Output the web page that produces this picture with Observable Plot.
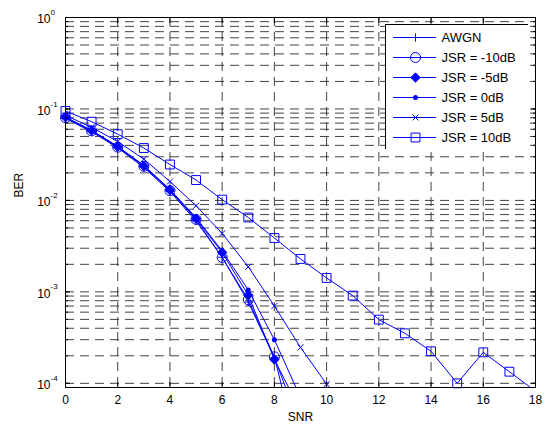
<!DOCTYPE html>
<html><head><meta charset="utf-8">
<script src="https://cdn.jsdelivr.net/npm/d3@7"></script>
<script src="https://cdn.jsdelivr.net/npm/@observablehq/plot@0.6"></script>
<style>
html,body{margin:0;padding:0;background:#fff;}
#chart{width:548px;height:425px;}
#chart > svg{display:block;}
</style></head><body><div id="chart"></div>
<script>
// ---- data ----
const snrAWGN = [0,1,2,3,4,5,6,7,8,9];
const berAWGN = [0.0786,0.0563,0.0375,0.0229,0.0125,0.00595,0.00239,0.000773,0.000191,0.0000336];
const snrJ10n = [0,1,2,3,4,5,6,7,8,9];
const berJ10n = [0.0800,0.0575,0.0382,0.0236,0.0128,0.0062,0.00238,0.00082,0.000195,0.000014];
const snrJ5n = [0,1,2,3,4,5,6,7,8,9];
const berJ5n = [0.0810,0.0580,0.0385,0.0238,0.0130,0.0063,0.0027,0.00092,0.000182,0.00005];
const snrJ0 = [0,1,2,3,4,5,6,7,8,9];
const berJ0 = [0.0815,0.0585,0.0390,0.0242,0.0132,0.0065,0.0028,0.00105,0.0003,0.00007];
const snrJ5 = [0,1,2,3,4,5,6,7,8,9,10];
const berJ5 = [0.085,0.063,0.044,0.0283,0.0161,0.00875,0.00436,0.00188,0.000701,0.000247,0.000098];
const snrJ10 = [0,1,2,3,4,5,6,7,8,9,10,11,12,13,14,15,16,17,18];
const berJ10 = [0.095,0.0725,0.053,0.0374,0.0247,0.0167,0.0102,0.0065,0.00388,0.00229,0.00142,0.00091,0.000497,0.000352,0.000224,0.0001,0.000218,0.000134,0.000082];

const seriesNames = ["AWGN","JSR = -10dB","JSR = -5dB","JSR = 0dB","JSR = 5dB","JSR = 10dB"];
const xTicks = [0,2,4,6,8,10,12,14,16,18];
const yMajor = [1e-4,1e-3,1e-2,1e-1,1];
const yMinor = [];
for (const d of [1e-4,1e-3,1e-2,1e-1]) for (let k = 1; k <= 9; k++) yMinor.push(k*d);
const xDomain = [0,18];
const yDomain = [9e-5,1];

// ---- styles ----
const BLUE = "#0000ff";
const styles = [
  {symbol:"plus", r:2.7, fill:"none", stroke:BLUE},
  {symbol:"circle", r:5, fill:"none", stroke:BLUE},
  {symbol:"diamond2", r:4.2, fill:BLUE, stroke:BLUE},
  {symbol:"circle", r:2.5, fill:BLUE, stroke:"none"},
  {symbol:"times", r:2.8, fill:"none", stroke:BLUE},
  {symbol:"square", r:5, fill:"none", stroke:BLUE}
];
const snrs = [snrAWGN,snrJ10n,snrJ5n,snrJ0,snrJ5,snrJ10];
const bers = [berAWGN,berJ10n,berJ5n,berJ0,berJ5,berJ10];
const series = seriesNames.map((name,i) => snrs[i].map((s,j) => ({snr:s, ber:bers[i][j], name})));

const gridStyle = {stroke:"#222", strokeOpacity:0.85, strokeWidth:1, strokeDasharray:"9,6"};
const font = "Liberation Sans, Arial, sans-serif";

const marks = [
  Plot.ruleY(yMinor, {y:d=>d, ...gridStyle}),
  Plot.ruleX(xTicks.filter(d=>d>xDomain[0] && d<xDomain[1]), {x:d=>d, ...gridStyle}),
];
series.forEach((rows,i) => {
  marks.push(Plot.line(rows, {x:"snr", y:"ber", stroke:BLUE, strokeWidth:1, clip:true}));
});
series.forEach((rows,i) => {
  const st = styles[i];
  marks.push(Plot.dot(rows.filter(d=>d.ber>=yDomain[0]), {x:"snr", y:"ber", symbol:st.symbol, r:st.r, fill:st.fill, stroke:st.stroke, strokeWidth:1}));
});
marks.push(
  Plot.axisX({ticks:xTicks, tickSize:-5, tickFormat:()=>"", anchor:"bottom"}),
  Plot.axisX({ticks:xTicks, tickSize:-5, tickFormat:()=>"", anchor:"top"}),
  Plot.axisY({ticks:yMajor, tickSize:-5, tickFormat:()=>"", anchor:"left"}),
  Plot.axisY({ticks:yMajor, tickSize:-5, tickFormat:()=>"", anchor:"right"}),
  Plot.axisY({ticks:yMinor, tickSize:-3, tickFormat:()=>"", anchor:"left"}),
  Plot.axisY({ticks:yMinor, tickSize:-3, tickFormat:()=>"", anchor:"right"}),
  Plot.text(xTicks, {x:d=>d, text:d=>String(d), frameAnchor:"bottom", dy:16, fontSize:12, fill:"black"}),
  Plot.text(yMajor, {y:d=>d, text:()=>"10", frameAnchor:"left", textAnchor:"end", dx:-15, dy:2, fontSize:12, fill:"black"}),
  Plot.text(yMajor, {y:d=>d, text:d=>String(Math.round(Math.log10(d))), frameAnchor:"left", textAnchor:"start", dx:-15, dy:-5, fontSize:8, fill:"black"}),
  Plot.text(["SNR"], {text:d=>d, frameAnchor:"bottom", dy:33, fontSize:12, fill:"black"}),
  Plot.text(["BER"], {text:d=>d, frameAnchor:"left", rotate:-90, dx:-46, dy:-5, fontSize:12, fill:"black"}),
  Plot.frame({stroke:"black", strokeWidth:1})
);

const chart = Plot.plot({
  width:548, height:425,
  marginLeft:65, marginRight:13, marginTop:17, marginBottom:38,
  x:{domain:xDomain, label:null},
  y:{type:"log", domain:yDomain, label:null},
  style:{fontFamily:font, fontSize:"12px", background:"white", color:"black"},
  marks
});
document.getElementById("chart").appendChild(chart);

// ---- legend (nested inside the chart's SVG) ----
const legend = Plot.plot({
  width:143, height:125, margin:0,
  x:{type:"identity", axis:null},
  y:{type:"point", domain:seriesNames, range:[13,113.5], padding:0, axis:null},
  style:{fontFamily:font, background:"white", color:"black"},
  marks:[
    Plot.frame({fill:"white", stroke:"black", strokeWidth:1}),
    Plot.ruleY(seriesNames, {y:d=>d, x1:8, x2:51, stroke:BLUE, strokeWidth:1}),
    ...seriesNames.map((n,i) => Plot.dot([n], {x:30, y:d=>d, symbol:styles[i].symbol, r:styles[i].r, fill:styles[i].fill, stroke:styles[i].stroke, strokeWidth:1})),
    Plot.text(seriesNames, {x:56, y:d=>d, text:d=>d, textAnchor:"start", fontSize:13, fill:"black"})
  ]
});
legend.setAttribute("x", 385);
legend.setAttribute("y", 24);
legend.setAttribute("width", 143);
legend.setAttribute("height", 125);
legend.style.width = "143px";
legend.style.height = "125px";
legend.style.maxWidth = "none";
chart.appendChild(legend);
</script></body></html>
